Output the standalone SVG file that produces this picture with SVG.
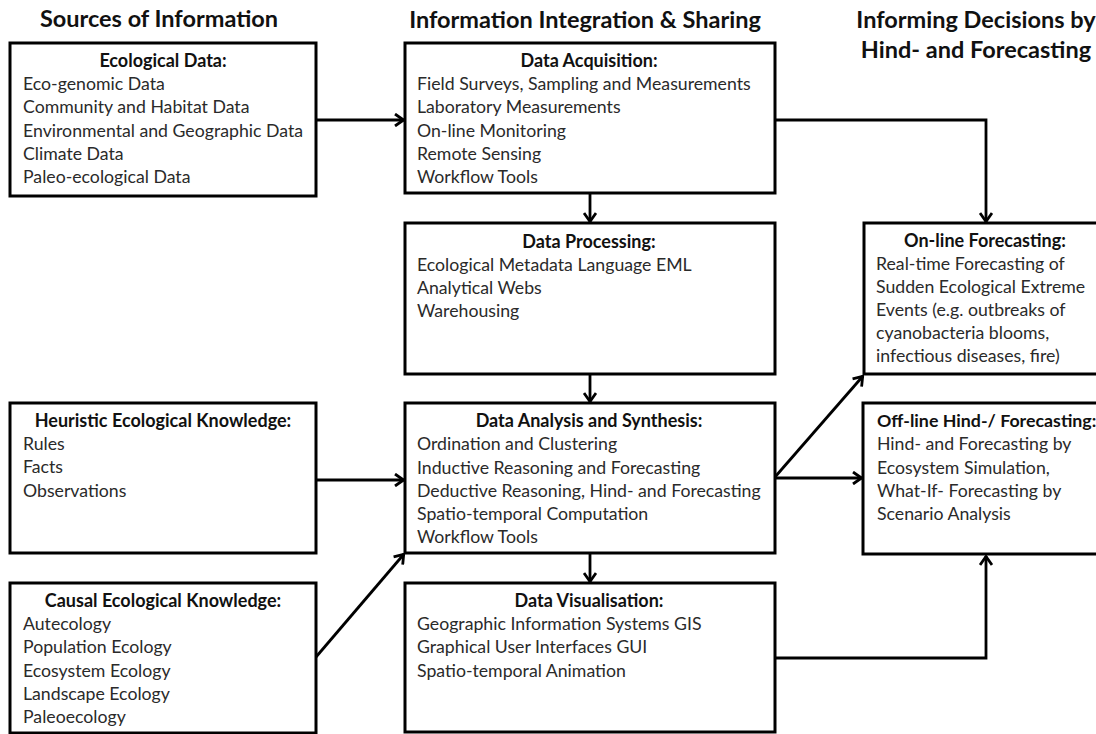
<svg xmlns="http://www.w3.org/2000/svg" width="1096" height="734" viewBox="0 0 1096 734">
<defs>
<style>
.bg{fill:#fff}
.box{fill:#fff;stroke:#000;stroke-width:3}
.hd{font-family:Lato,"Open Sans","Liberation Sans",sans-serif;font-weight:bold;font-size:23.5px;fill:#111}
.tt{font-family:Lato,"Open Sans","Liberation Sans",sans-serif;font-weight:bold;font-size:18px;fill:#111;text-anchor:middle}
.tl{font-family:Lato,"Open Sans","Liberation Sans",sans-serif;font-weight:bold;font-size:17.8px;fill:#111}
.tx{font-family:Lato,"Open Sans","Liberation Sans",sans-serif;font-size:17.7px;fill:#2a2a2a}
.cn{fill:none;stroke:#000;stroke-width:2.8;marker-end:url(#arr)}
</style>
<marker id="arr" viewBox="0 0 12 14" refX="11" refY="7" markerWidth="12" markerHeight="14" orient="auto" markerUnits="userSpaceOnUse">
<path d="M2,1 L10.5,7 L2,13" fill="none" stroke="#000" stroke-width="2.8"/>
</marker>
</defs>
<rect class="bg" x="0" y="0" width="1096" height="734"/>

<g id="headers">
<text class="hd" x="159" y="27" text-anchor="middle">Sources of Information</text>
<text class="hd" x="585" y="28" text-anchor="middle">Information Integration &amp; Sharing</text>
<text class="hd" x="976" y="28" text-anchor="middle">Informing Decisions by</text>
<text class="hd" x="976" y="58" text-anchor="middle">Hind- and Forecasting</text>
</g>

<g id="connectors">
<path class="cn" d="M316,120 H404"/>
<path class="cn" d="M775,120 H986 V222"/>
<path class="cn" d="M590,193 V222"/>
<path class="cn" d="M590,374 V402"/>
<path class="cn" d="M316,480 H404"/>
<path class="cn" d="M316,657 L404,554"/>
<path class="cn" d="M775,477 L863,376"/>
<path class="cn" d="M775,478 H862"/>
<path class="cn" d="M590,553 V582"/>
<path class="cn" d="M775,658 H986 V556"/>
</g>

<g id="ecological-data">
<rect class="box" x="10" y="43" width="306" height="153"/>
<text class="tt" x="163" y="67">Ecological Data:</text>
<text class="tx" x="23" y="90">Eco-genomic Data</text>
<text class="tx" x="23" y="113">Community  and Habitat Data</text>
<text class="tx" x="23" y="137">Environmental and Geographic Data</text>
<text class="tx" x="23" y="160">Climate Data</text>
<text class="tx" x="23" y="183">Paleo-ecological Data</text>
</g>

<g id="data-acquisition">
<rect class="box" x="405" y="43" width="370" height="150"/>
<text class="tt" x="589" y="67">Data Acquisition:</text>
<text class="tx" x="417" y="90">Field Surveys, Sampling and Measurements</text>
<text class="tx" x="417" y="113">Laboratory Measurements</text>
<text class="tx" x="417" y="137">On-line Monitoring</text>
<text class="tx" x="417" y="160">Remote Sensing</text>
<text class="tx" x="417" y="183">Workflow Tools</text>
</g>

<g id="data-processing">
<rect class="box" x="405" y="223" width="370" height="151"/>
<text class="tt" x="589" y="248">Data Processing:</text>
<text class="tx" x="417" y="271">Ecological Metadata Language EML</text>
<text class="tx" x="417" y="294">Analytical Webs</text>
<text class="tx" x="417" y="317">Warehousing</text>
</g>

<g id="online-forecasting">
<rect class="box" x="864" y="223" width="240" height="151"/>
<text class="tt" x="985" y="247">On-line Forecasting:</text>
<text class="tx" x="876" y="270">Real-time Forecasting of</text>
<text class="tx" x="876" y="293">Sudden Ecological Extreme</text>
<text class="tx" x="876" y="316">Events (e.g. outbreaks of</text>
<text class="tx" x="876" y="339">cyanobacteria blooms,</text>
<text class="tx" x="876" y="362">infectious diseases, fire)</text>
</g>

<g id="heuristic-knowledge">
<rect class="box" x="10" y="403" width="306" height="150"/>
<text class="tt" x="163" y="427">Heuristic Ecological Knowledge:</text>
<text class="tx" x="23" y="450">Rules</text>
<text class="tx" x="23" y="473">Facts</text>
<text class="tx" x="23" y="497">Observations</text>
</g>

<g id="data-analysis">
<rect class="box" x="405" y="403" width="370" height="150"/>
<text class="tt" x="589" y="427">Data Analysis and Synthesis:</text>
<text class="tx" x="417" y="450">Ordination and Clustering</text>
<text class="tx" x="417" y="474">Inductive Reasoning and Forecasting</text>
<text class="tx" x="417" y="497">Deductive Reasoning, Hind- and Forecasting</text>
<text class="tx" x="417" y="520">Spatio-temporal Computation</text>
<text class="tx" x="417" y="543">Workflow Tools</text>
</g>

<g id="offline-forecasting">
<rect class="box" x="863" y="403" width="240" height="151"/>
<text class="tl" x="877" y="427">Off-line Hind-/ Forecasting:</text>
<text class="tx" x="877" y="450">Hind- and  Forecasting by</text>
<text class="tx" x="877" y="474">Ecosystem  Simulation,</text>
<text class="tx" x="877" y="497">What-If- Forecasting by</text>
<text class="tx" x="877" y="520">Scenario Analysis</text>
</g>

<g id="causal-knowledge">
<rect class="box" x="10" y="583" width="306" height="150"/>
<text class="tt" x="163" y="607">Causal Ecological Knowledge:</text>
<text class="tx" x="23" y="630">Autecology</text>
<text class="tx" x="23" y="653">Population Ecology</text>
<text class="tx" x="23" y="677">Ecosystem Ecology</text>
<text class="tx" x="23" y="700">Landscape Ecology</text>
<text class="tx" x="23" y="723">Paleoecology</text>
</g>

<g id="data-visualisation">
<rect class="box" x="405" y="583" width="370" height="149"/>
<text class="tt" x="589" y="607">Data Visualisation:</text>
<text class="tx" x="417" y="630">Geographic Information Systems GIS</text>
<text class="tx" x="417" y="653">Graphical User Interfaces GUI</text>
<text class="tx" x="417" y="677">Spatio-temporal Animation</text>
</g>
</svg>
